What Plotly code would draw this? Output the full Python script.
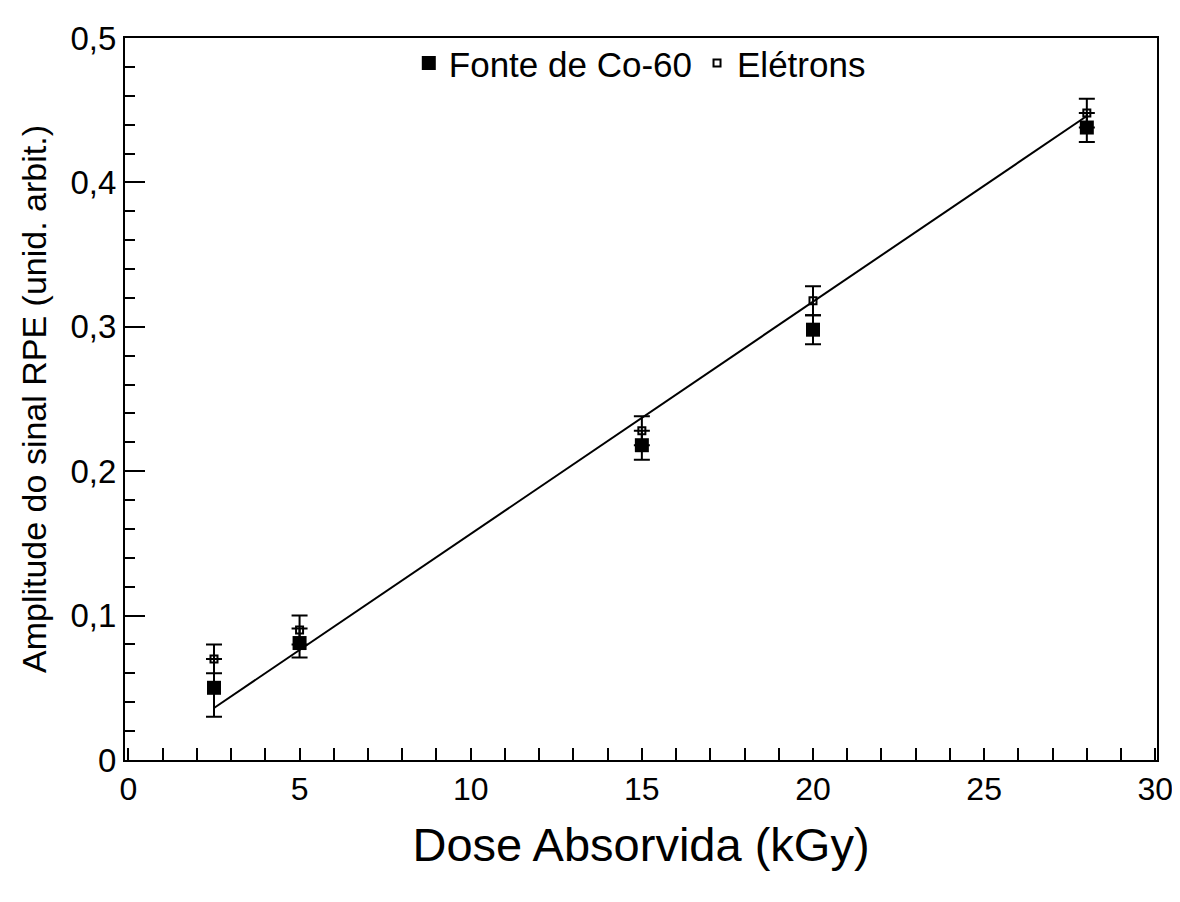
import plotly.graph_objects as go

# Data
dose = [2.5, 5, 15, 20, 28]
co60 = [0.050, 0.081, 0.218, 0.298, 0.438]
co60_err = [0.020, 0.010, 0.010, 0.010, 0.010]
eletrons = [0.070, 0.090, 0.228, 0.318, 0.448]
eletrons_err = [0.010, 0.010, 0.010, 0.010, 0.010]
fit_x = [2.5, 28]
fit_y = [0.036, 0.446]

y_tickvals = [0, 0.1, 0.2, 0.3, 0.4, 0.5]
y_ticktext = ["0", "0,1", "0,2", "0,3", "0,4", "0,5"]
x_tickvals = [0, 5, 10, 15, 20, 25, 30]

FONT = "Liberation Sans, Arial, Helvetica, sans-serif"

fig = go.Figure()

fig.add_trace(go.Scatter(
    x=fit_x, y=fit_y, mode="lines",
    line=dict(color="black", width=2),
    showlegend=False, hoverinfo="skip",
))

fig.add_trace(go.Scatter(
    x=dose, y=co60, mode="markers", name="Fonte de Co-60",
    marker=dict(symbol="square", size=14, color="black"),
    error_y=dict(type="data", array=co60_err, visible=True,
                 color="black", thickness=2, width=8),
))

fig.add_trace(go.Scatter(
    x=dose, y=eletrons, mode="markers", name="Elétrons",
    marker=dict(symbol="square-open", size=7, color="black",
                line=dict(width=2, color="black")),
    error_y=dict(type="data", array=eletrons_err, visible=True,
                 color="black", thickness=2, width=8),
))

fig.update_layout(
    width=1180, height=902,
    margin=dict(l=117, r=31, t=27, b=150),
    paper_bgcolor="white", plot_bgcolor="white",
    font=dict(family=FONT, color="black", size=30),
    legend=dict(
        orientation="h", x=0.275, y=0.965, xanchor="left", yanchor="middle",
        bgcolor="rgba(0,0,0,0)", font=dict(size=35), itemwidth=30,
    ),
    showlegend=True,
)

fig.update_xaxes(
    range=[-0.1, 30.05],
    tickvals=x_tickvals,
    ticks="inside", ticklen=12, tickwidth=2, tickcolor="black",
    minor=dict(dtick=1, ticks="inside", ticklen=12, tickwidth=2, tickcolor="black"),
    showline=True, linecolor="black", linewidth=2, mirror=True,
    showgrid=False, zeroline=False,
    tickfont=dict(size=32),
    title=dict(text="Dose Absorvida (kGy)", font=dict(size=47), standoff=22),
)

fig.update_yaxes(
    range=[0, 0.5],
    tickvals=y_tickvals, ticktext=y_ticktext,
    ticks="inside", ticklen=20, tickwidth=2, tickcolor="black",
    minor=dict(dtick=0.02, ticks="inside", ticklen=10, tickwidth=2, tickcolor="black"),
    showline=True, linecolor="black", linewidth=2, mirror=True,
    showgrid=False, zeroline=False,
    tickfont=dict(size=33),
    title=dict(text="Amplitude do sinal RPE (unid. arbit.)", font=dict(size=34), standoff=14),
)

fig.write_html("out.html")
